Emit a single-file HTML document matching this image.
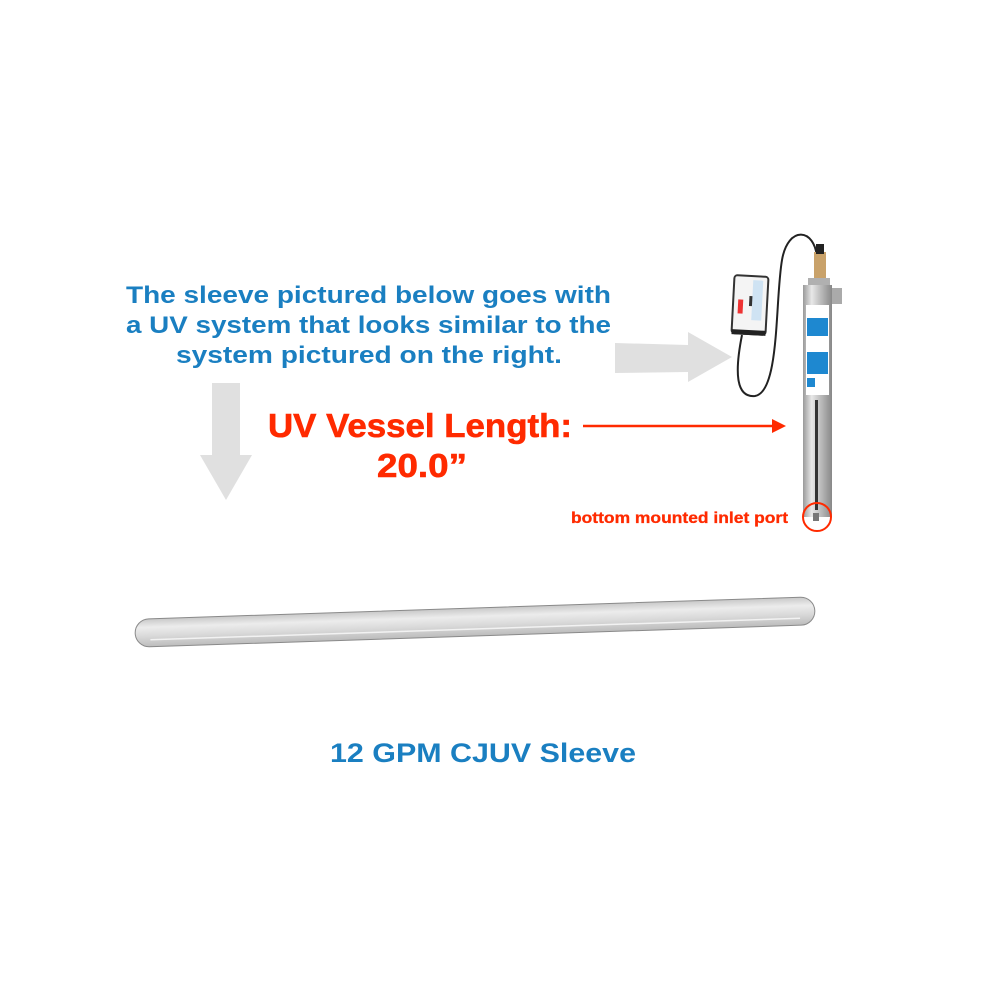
<!DOCTYPE html>
<html><head><meta charset="utf-8"><style>
html,body{margin:0;padding:0;background:#fff;}
svg{display:block;}
</style></head><body>
<svg width="1000" height="1000" viewBox="0 0 1000 1000" xmlns="http://www.w3.org/2000/svg">
<rect width="1000" height="1000" fill="#fff"/>
<g font-family="Liberation Sans, Arial, sans-serif" font-weight="bold" fill="#1a7fc1" font-size="24">
<text x="126" y="303" textLength="485" lengthAdjust="spacingAndGlyphs">The sleeve pictured below goes with</text>
<text x="126" y="333" textLength="485" lengthAdjust="spacingAndGlyphs">a UV system that looks similar to the</text>
<text x="176" y="363" textLength="386" lengthAdjust="spacingAndGlyphs">system pictured on the right.</text>
<text x="330" y="762" font-size="27" textLength="306" lengthAdjust="spacingAndGlyphs">12 GPM CJUV Sleeve</text>
</g>
<polygon points="615,343 688,345 688,332 732,357 688,382 688,372 615,373" fill="#e0e0e0"/>
<polygon points="212,383 240,383 240,455 252,455 226,500 200,455 212,455" fill="#e0e0e0"/>
<g font-family="Liberation Sans, Arial, sans-serif" font-weight="bold" fill="#ff2a00" stroke="#ff2a00" stroke-width="0.6">
<text x="268" y="437" font-size="33" textLength="304" lengthAdjust="spacingAndGlyphs">UV Vessel Length:</text>
<text x="377" y="477" font-size="33" textLength="90" lengthAdjust="spacingAndGlyphs">20.0”</text>
<text x="571" y="523" font-size="15.5" stroke-width="0.3" textLength="217" lengthAdjust="spacingAndGlyphs">bottom mounted inlet port</text>
</g>
<line x1="583" y1="426" x2="774" y2="426" stroke="#ff2a00" stroke-width="2.5"/>
<polygon points="772,419 786,426 772,433" fill="#ff2a00"/>
<path d="M742,335 C735,370 735,398 755,396 C780,392 775,300 782,260 C788,225 815,228 817,258" fill="none" stroke="#222" stroke-width="2"/>
<g transform="rotate(3 750 305)">
<rect x="733" y="276" width="34" height="58" rx="3" fill="#f4f4f4" stroke="#333" stroke-width="2"/>
<rect x="738" y="300" width="5" height="14" fill="#e33"/>
<rect x="749" y="296" width="8" height="10" fill="#333"/>
<rect x="752" y="280" width="10" height="40" fill="#cfe3f3"/>
<rect x="733" y="330" width="34" height="5" fill="#222"/>
</g>
<rect x="814" y="252" width="12" height="28" fill="#c9a26a"/>
<rect x="816" y="244" width="8" height="10" fill="#222"/>
<rect x="808" y="278" width="22" height="14" fill="#b0b0b0"/>
<rect x="830" y="288" width="12" height="16" fill="#aaa"/>
<defs><linearGradient id="st" x1="0" x2="1"><stop offset="0" stop-color="#9a9a9a"/><stop offset="0.3" stop-color="#e8e8e8"/><stop offset="0.6" stop-color="#bdbdbd"/><stop offset="1" stop-color="#888"/></linearGradient>
<linearGradient id="gl" x1="0" y1="0" x2="0" y2="1"><stop offset="0" stop-color="#c8c8c8"/><stop offset="0.3" stop-color="#ececec"/><stop offset="0.6" stop-color="#dadada"/><stop offset="1" stop-color="#bcbcbc"/></linearGradient></defs>
<rect x="803" y="285" width="29" height="232" fill="url(#st)"/>
<rect x="815" y="400" width="3" height="110" fill="#333"/>
<rect x="806" y="305" width="23" height="90" fill="#fff"/>
<rect x="807" y="318" width="21" height="18" fill="#1e88d0"/>
<rect x="807" y="352" width="21" height="22" fill="#1e88d0"/>
<rect x="807" y="378" width="8" height="9" fill="#1e88d0"/>
<rect x="813" y="513" width="6" height="8" fill="#777"/>
<circle cx="817" cy="517" r="14" fill="none" stroke="#ff2a00" stroke-width="2"/>
<g transform="rotate(-1.9 475 622)">
<rect x="135" y="608" width="680" height="28" rx="14" fill="url(#gl)" stroke="#8a8a8a" stroke-width="1"/>
<line x1="150" y1="629" x2="800" y2="629" stroke="#f2f2f2" stroke-width="1.5"/>
</g>
</svg>
</body></html>
